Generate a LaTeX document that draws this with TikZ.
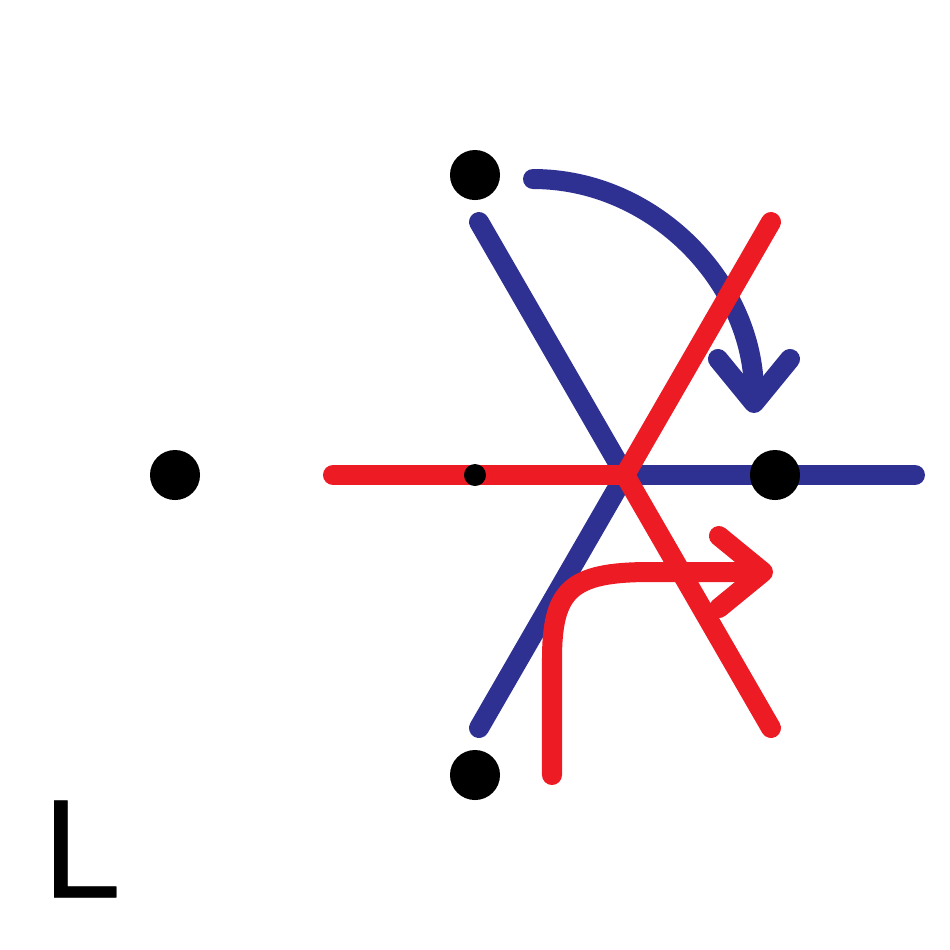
\documentclass[tikz,border=0pt]{standalone}
\usepackage{fontspec}
\setmainfont{Liberation Sans}
\newfontfamily\lblfont[FakeBold=0.3]{Liberation Sans}
\usetikzlibrary{arrows.meta}
\definecolor{lineblue}{HTML}{2E3192}
\definecolor{linered}{HTML}{ED1C24}

\begin{document}
\begin{tikzpicture}[
    x=0.01cm, y=-0.01cm,
    dot/.style={circle, fill=black, inner sep=0pt, minimum size=0.5cm},
    smalldot/.style={circle, fill=black, inner sep=0pt, minimum size=0.22cm},
    bar/.style={line width=0.2cm, line cap=round},
    turn/.style={bar, line join=round, -{Straight Barb[length=0.44cm, width=0.72cm, round]}},
    lbl/.style={font=\lblfont\fontsize{40}{40}\selectfont, inner sep=0pt}
]
  \useasboundingbox (0,0) rectangle (950,950);
  \coordinate (c) at (625,475);

  % blue half-lines
  \coordinate (bu) at (479,222);
  \coordinate (bd) at (479,728);
  \coordinate (br) at (915,475);
  \draw[bar, lineblue] (c) -- (bu);
  \draw[bar, lineblue] (c) -- (bd);
  \draw[bar, lineblue] (c) -- (br);

  % blue turn arrow
  \coordinate (bs) at (533,179);
  \draw[turn, lineblue] (bs) arc[start angle=-90, end angle=0, x radius=221, y radius=234];

  % red half-lines
  \coordinate (rl) at (333,475);
  \coordinate (ru) at (771,222);
  \coordinate (rd) at (771,728);
  \draw[bar, linered] (c) -- (rl);
  \draw[bar, linered] (c) -- (ru);
  \draw[bar, linered] (c) -- (rd);

  % red turn arrow
  \coordinate (rs) at (552,775);
  \coordinate (re) at (773,572);
  \draw[turn, linered] (rs) -- (552,660) .. controls (552,590) and (570,572) .. (650,572) -- (re);

  % points
  \node[dot] (top) at (475,175) {};
  \node[dot] (left) at (175,475) {};
  \node[dot] (right) at (775,475) {};
  \node[dot] (bottom) at (475,775) {};
  \node[smalldot] (mid) at (475,475) {};

  \node[lbl, anchor=south west] (name) at (42,898) {L};
\end{tikzpicture}
\end{document}
